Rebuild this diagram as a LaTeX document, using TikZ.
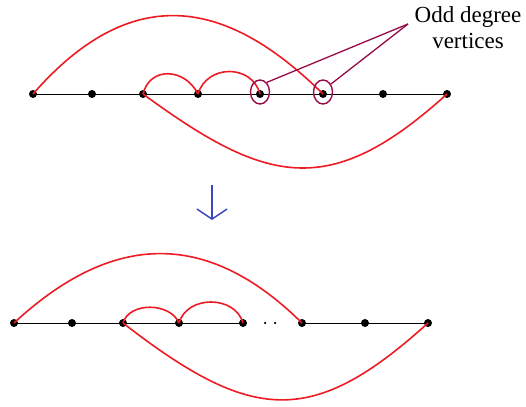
\documentclass[tikz,border=0pt]{standalone}
\usepackage{fontspec}
\setmainfont{Liberation Serif}
\usetikzlibrary{arrows.meta,shapes.geometric}
\definecolor{arcred}{RGB}{237,28,36}
\definecolor{oddmaroon}{RGB}{150,10,70}
\definecolor{arrowblue}{RGB}{60,70,190}
\tikzset{
  vtx/.style={circle,fill=black,inner sep=0pt,minimum size=8pt},
  tinydot/.style={circle,fill=black,inner sep=0pt,minimum size=2.5pt},
  pathline/.style={black,line width=0.9pt},
  arcline/.style={arcred,line width=1.6pt},
  oddring/.style={ellipse,draw=oddmaroon,line width=1.4pt,inner sep=0pt,minimum width=19pt,minimum height=24pt},
  pointer/.style={oddmaroon,line width=1.3pt}
}
\begin{document}
\begin{tikzpicture}[x=1pt,y=1pt]
	\useasboundingbox (0,0) rectangle (526,406);
	% upper graph
	\foreach \x [count=\i] in {33,92,143,198,260,323,383,447}
		\node[vtx] (t\i) at (\x,312) {};
	\draw[pathline] (t1.center) -- (t8.center);
	\draw[arcline] (t1.center) .. controls (137,431) and (233,401) .. (t6.center);
	\draw[arcline] (t3.center) .. controls (150,340) and (185,338) .. (t4.center);
	\draw[arcline] (t4.center) .. controls (207,342) and (252,342) .. (t5.center);
	\draw[arcline] (t3.center) .. controls (266,222) and (329,205) .. (t8.center);
	% odd vertices
	\node[oddring] (o1) at ([yshift=2pt]t5.center) {};
	\node[oddring] (o2) at ([yshift=2pt]t6.center) {};
	\node[font=\fontsize{23}{26}\selectfont,align=center,inner sep=0pt,anchor=north] (lbl) at (468,400) {Odd degree\\vertices};
	\coordinate (tip) at (408,382);
	\draw[pointer] (o1.55) -- (tip);
	\draw[pointer] (o2.45) -- (tip);
	% arrow
	\coordinate (arrtop) at (212,221);
	\coordinate (arrbot) at (212,186);
	\draw[arrowblue,line width=1.5pt,-{Straight Barb[length=10pt,width=30pt]}] (arrtop) -- (arrbot);
	% lower graph
	\foreach \x [count=\i] in {14,72,123,179,243,302,365,428}
		\node[vtx] (b\i) at (\x,83) {};
	\node[tinydot] (d1) at (265,83) {};
	\node[tinydot] (d2) at (275,83) {};
	\draw[pathline] (b1.center) -- (b5.center);
	\draw[pathline] (b6.center) -- (b8.center);
	\draw[arcline] (b1.center) .. controls (110,172) and (205,179) .. (b6.center);
	\draw[arcline] (b3.center) .. controls (129,104) and (170,104) .. (b4.center);
	\draw[arcline] (b4.center) .. controls (187,111) and (235,111) .. (b5.center);
	\draw[arcline] (b3.center) .. controls (252,-17) and (312,-22) .. (b8.center);
\end{tikzpicture}
\end{document}
